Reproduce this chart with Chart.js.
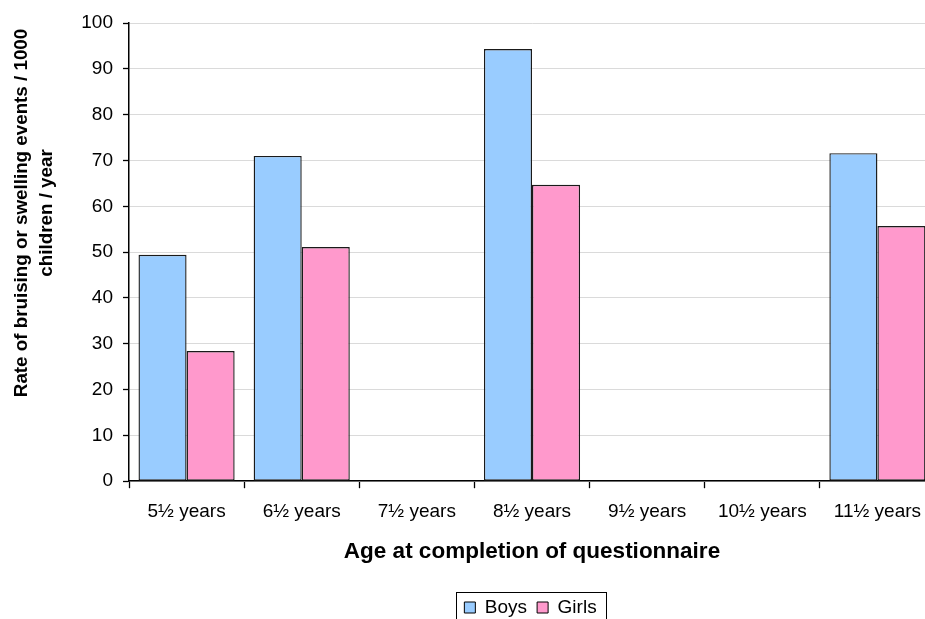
<!DOCTYPE html>
<html>
<head>
<meta charset="utf-8">
<script src="https://cdn.jsdelivr.net/npm/chart.js@4"></script>
<style>
  html, body { margin: 0; padding: 0; background: #ffffff; overflow: hidden; }
  #wrap { position: relative; width: 935px; height: 631px; }
</style>
</head>
<body>
<div id="wrap"><canvas id="chart"></canvas></div>
<script>
// Age groups at completion of the questionnaire
const ageGroups = ['5½ years', '6½ years', '7½ years', '8½ years', '9½ years', '10½ years', '11½ years'];
// Events per 1000 children per year (null = no data collected at that age)
const boysRates  = [49.4, 71.0, null, 94.3, null, null, 71.6];
const girlsRates = [28.4, 51.1, null, 64.7, null, null, 55.7];
// Value axis ticks
const yTickMin = 0;
const yTickMax = 100;
const yTickStep = 10;

const FONT = "'Liberation Sans', Arial, Helvetica, sans-serif";
const NBSP = '\u00A0';
const lead = NBSP.repeat(15);

// Moves the legend to the right and draws a thin frame around its items
const legendFrame = {
  id: 'legendFrame',
  afterLayout(chart) {
    const lg = chart.legend;
    if (!lg) return;
    lg.left += 63;
    lg.right += 63;
  },
  afterDraw(chart) {
    const lg = chart.legend;
    if (!lg || !lg.legendHitBoxes || !lg.legendHitBoxes.length) return;
    const boxes = lg.legendHitBoxes;
    const left = boxes[0].left - 8;
    const last = boxes[boxes.length - 1];
    const right = last.left + last.width + 10;
    const mid = boxes[0].top + boxes[0].height / 2;
    const top = mid - 16;
    const bottom = mid + 18;
    const ctx = chart.ctx;
    ctx.save();
    ctx.strokeStyle = '#000000';
    ctx.lineWidth = 1;
    ctx.strokeRect(Math.round(left) + 0.5, Math.round(top) + 0.5, Math.round(right - left), Math.round(bottom - top));
    ctx.restore();
  }
};

new Chart(document.getElementById('chart'), {
  type: 'bar',
  data: {
    labels: ageGroups,
    datasets: [
      {
        label: 'Boys',
        data: boysRates,
        backgroundColor: '#99CCFF',
        borderColor: '#1a1a1a',
        borderWidth: 1.4,
        borderSkipped: false,
        categoryPercentage: 0.835,
        barPercentage: 1.0
      },
      {
        label: 'Girls',
        data: girlsRates,
        backgroundColor: '#FF99CC',
        borderColor: '#1a1a1a',
        borderWidth: 1.4,
        borderSkipped: false,
        categoryPercentage: 0.835,
        barPercentage: 1.0
      }
    ]
  },
  options: {
    responsive: true,
    maintainAspectRatio: false,
    animation: false,
    devicePixelRatio: 1,
    layout: { padding: { top: 23, left: 0, right: 0, bottom: 4 } },
    plugins: {
      tooltip: { enabled: false },
      legend: {
        display: true,
        position: 'bottom',
        labels: {
          color: '#000000',
          font: { family: FONT, size: 19 },
          boxWidth: 11,
          boxHeight: 11,
          padding: 10,
          generateLabels(chart) {
            return chart.data.datasets.map((ds, i) => ({
              text: ds.label,
              fillStyle: ds.backgroundColor,
              strokeStyle: '#000000',
              lineWidth: 1,
              hidden: false,
              datasetIndex: i,
              fontColor: '#000000'
            }));
          }
        }
      }
    },
    scales: {
      x: {
        offset: true,
        grid: {
          display: true,
          offset: true,
          drawOnChartArea: false,
          drawTicks: true,
          tickLength: 7,
          tickColor: '#000000',
          tickWidth: 1.3
        },
        border: { display: true, color: '#000000', width: 1.5 },
        ticks: {
          color: '#000000',
          font: { family: FONT, size: 19 },
          padding: 12.5,
          maxRotation: 0,
          autoSkip: false
        },
        title: {
          display: true,
          text: 'Age at completion of questionnaire',
          color: '#000000',
          font: { family: FONT, size: 22.5, weight: 'bold' },
          padding: { top: 2.5, bottom: 22.5 }
        }
      },
      y: {
        min: yTickMin,
        max: yTickMax,
        afterFit(scale) { scale.width = 129; },
        grid: {
          color: '#dadada',
          lineWidth: 1,
          drawTicks: true,
          tickLength: 6,
          tickColor: '#000000',
          tickWidth: 1.3
        },
        border: { display: true, color: '#000000', width: 1.5 },
        ticks: {
          stepSize: yTickStep,
          color: '#000000',
          font: { family: FONT, size: 19 },
          padding: 10
        },
        title: {
          display: true,
          text: [lead + 'Rate of bruising or swelling events / 1000',
                 lead + 'children / year'],
          color: '#000000',
          font: { family: FONT, size: 18.8, weight: 'bold', lineHeight: 1.35 },
          padding: { top: 9, bottom: 0 }
        }
      }
    }
  },
  plugins: [legendFrame]
});
</script>
</body>
</html>
